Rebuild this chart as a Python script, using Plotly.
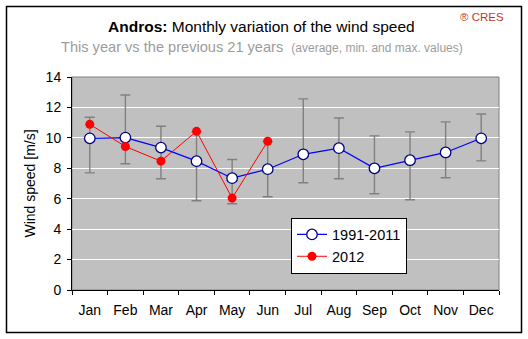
import plotly.graph_objects as go

months = ["Jan", "Feb", "Mar", "Apr", "May", "Jun",
          "Jul", "Aug", "Sep", "Oct", "Nov", "Dec"]
avg_1991_2011 = [9.97, 10.02, 9.36, 8.47, 7.35, 7.94, 8.92, 9.32, 8.00, 8.53, 9.04, 9.97]
max_1991_2011 = [11.35, 12.82, 10.76, 10.40, 8.58, 9.75, 12.56, 11.31, 10.13, 10.39, 11.05, 11.57]
min_1991_2011 = [7.70, 8.30, 7.31, 5.87, 5.67, 6.13, 7.05, 7.31, 6.33, 5.93, 7.38, 8.49]
months_2012 = ["Jan", "Feb", "Mar", "Apr", "May", "Jun"]
values_2012 = [10.89, 9.43, 8.47, 10.43, 6.04, 9.78]

FONT = "Arial, Liberation Sans, sans-serif"
W, H = 528, 339
ML, MR, MT, MB = 72, 29, 77, 49
PW, PH = W - ML - MR, H - MT - MB

err_plus = [mx - a for mx, a in zip(max_1991_2011, avg_1991_2011)]
err_minus = [a - mn for a, mn in zip(avg_1991_2011, min_1991_2011)]

fig = go.Figure()
fig.add_trace(go.Scatter(
    x=months, y=avg_1991_2011, name="1991-2011", mode="lines+markers",
    line=dict(color="#0000FF", width=1.2),
    marker=dict(symbol="circle", size=10.5, color="white",
                line=dict(color="#000080", width=1.3)),
    error_y=dict(type="data", array=err_plus, arrayminus=err_minus,
                 color="#808080", thickness=1.4, width=5),
))
fig.add_trace(go.Scatter(
    x=months_2012, y=values_2012, name="2012", mode="lines+markers",
    line=dict(color="#FF0000", width=1),
    marker=dict(symbol="circle", size=9, color="#FF0000",
                line=dict(color="#FF0000", width=0)),
))

def px(x):
    return (x - ML) / PW

def py(y):
    return (H - MB - y) / PH

shapes = [
    # gray frame on top and right of the plotting area
    dict(type="rect", xref="paper", yref="paper", x0=0, y0=0, x1=1, y1=1,
         line=dict(color="#808080", width=1), layer="below"),
    # outer chart border
    dict(type="rect", xref="paper", yref="paper",
         x0=px(6.5), y0=py(332.5), x1=px(521.5), y1=py(6.5),
         line=dict(color="black", width=1.5)),
]

annotations = [
    dict(xref="paper", yref="paper", x=px(261), y=py(26), xanchor="center", yanchor="middle",
         showarrow=False,
         text="<b>Andros:</b> Monthly variation of the wind speed",
         font=dict(family=FONT, size=15.5, color="black")),
    dict(xref="paper", yref="paper", x=px(261.5), y=py(47), xanchor="center", yanchor="middle",
         showarrow=False,
         text="This year vs the previous 21 years  <span style='font-size:12px'>(average, min. and max. values)</span>",
         font=dict(family=FONT, size=14.6, color="#9C9C9C")),
    dict(xref="paper", yref="paper", x=px(506), y=py(17), xanchor="right", yanchor="middle",
         showarrow=False, text="® CRES",
         font=dict(family=FONT, size=11.5, color="#C0392B")),
]

fig.update_layout(
    width=W, height=H,
    margin=dict(l=ML, r=MR, t=MT, b=MB),
    paper_bgcolor="white", plot_bgcolor="#C0C0C0",
    font=dict(family=FONT, size=14, color="black"),
    showlegend=True,
    legend=dict(x=px(291), y=py(217.5), xanchor="left", yanchor="top",
                bgcolor="white", bordercolor="black", borderwidth=1,
                font=dict(family=FONT, size=14.5, color="black"),
                tracegroupgap=0, itemwidth=30),
    shapes=shapes, annotations=annotations,
    xaxis=dict(type="category", categoryorder="array", categoryarray=months,
               range=[-0.5, 11.5], showgrid=False,
               showline=True, linecolor="black", linewidth=1,
               ticks="outside", tickson="boundaries", ticklen=4, tickcolor="black",
               ticklabelstandoff=7,
               tickfont=dict(family=FONT, size=14, color="black")),
    yaxis=dict(range=[0, 14], dtick=2, showgrid=True, gridcolor="white", gridwidth=1.3,
               showline=True, linecolor="black", linewidth=1, zeroline=False,
               ticks="outside", ticklen=4, tickcolor="black",
               ticklabelstandoff=3,
               tickfont=dict(family=FONT, size=14, color="black"),
               title=dict(text="Wind speed [m/s]", standoff=6,
                          font=dict(family=FONT, size=14, color="black"))),
)

fig.write_html("out.html")
